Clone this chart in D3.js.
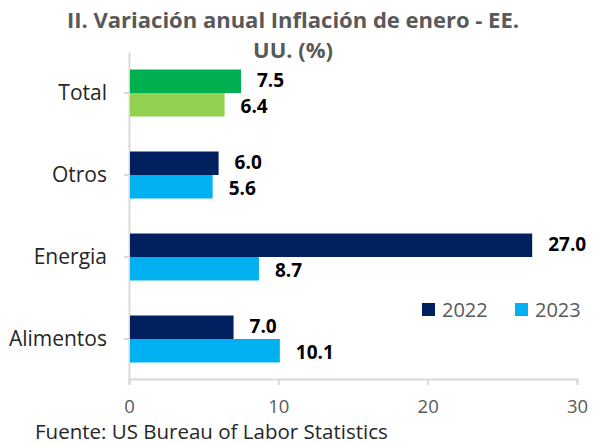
<!DOCTYPE html>
<html>
<head>
<meta charset="utf-8">
<script src="https://cdn.jsdelivr.net/npm/d3@7"></script>
<style>
  html, body { margin: 0; padding: 0; background: #ffffff; }
  svg { display: block; }
</style>
</head>
<body>
<svg id="chart" width="595" height="445"></svg>
<script>
// ---- Data ----
const categories = ["Total", "Otros", "Energia", "Alimentos"];
const series = ["2022", "2023"];
const values2022 = [7.5, 6.0, 27.0, 7.0];
const values2023 = [6.4, 5.6, 8.7, 10.1];
const xTicks = [0, 10, 20, 30];
const titleLines = ["II. Variación  anual Inflación de enero - EE.", "UU. (%)"];
const sourceText = "Fuente: US Bureau of Labor Statistics";

// ---- Styles ----
const colors = { "2022": "#002060", "2023": "#00B0F0" };
const totalColors = { "2022": "#00B050", "2023": "#92D050" };
const font = "'Open Sans', 'Noto Sans', sans-serif";

const svg = d3.select("#chart");

const x = d3.scaleLinear().domain([0, 30]).range([129, 577]);
const y = d3.scaleBand().domain(categories).range([52, 380])
  .paddingInner(0.427).paddingOuter(0.2135);
const ySub = d3.scaleBand().domain(series).range([0, y.bandwidth()]);

// Title
svg.append("g").selectAll("text").data(titleLines).join("text")
  .attr("x", 293).attr("y", (d, i) => 28 + i * 30)
  .attr("text-anchor", "middle")
  .style("font-family", font).style("font-weight", "bold")
  .style("font-size", "22px").style("fill", "#595959")
  .text(d => d);

// Axes
const gx = svg.append("g").attr("transform", "translate(0,379)")
  .call(d3.axisBottom(x).tickValues(xTicks).tickSize(6).tickPadding(15).tickFormat(d3.format("d")));
gx.select(".domain").attr("stroke", "#d9d9d9").attr("stroke-width", 2);
gx.selectAll(".tick line").attr("stroke", "#d9d9d9").attr("stroke-width", 2);
gx.selectAll(".tick text").style("font-family", font).style("font-size", "18.5px").style("fill", "#595959");

const gy = svg.append("g").attr("transform", "translate(129,0)")
  .call(d3.axisLeft(y).tickSize(5).tickPadding(17).tickSizeOuter(0));
gy.select(".domain").attr("stroke", "#d9d9d9").attr("stroke-width", 2);
gy.selectAll(".tick line").attr("stroke", "#d9d9d9").attr("stroke-width", 2);
gy.selectAll(".tick text").style("font-family", font).style("font-size", "21px").style("fill", "#262626");

// Bars
const rows = [];
categories.forEach((c, i) => {
  rows.push({ cat: c, s: "2022", v: values2022[i] });
  rows.push({ cat: c, s: "2023", v: values2023[i] });
});

const bars = svg.append("g");
bars.selectAll("rect").data(rows).join("rect")
  .attr("x", x(0) + 1)
  .attr("y", d => y(d.cat) + ySub(d.s))
  .attr("width", d => x(d.v) - x(0) - 1)
  .attr("height", ySub.bandwidth())
  .attr("fill", d => d.cat === "Total" ? totalColors[d.s] : colors[d.s]);

bars.selectAll("text").data(rows).join("text")
  .attr("x", d => x(d.v) + 16)
  .attr("y", d => y(d.cat) + ySub(d.s) + ySub.bandwidth() / 2 + (d.s === "2022" ? -1 : 1))
  .attr("dy", "0.36em")
  .style("font-family", font).style("font-weight", "bold")
  .style("font-size", "19px").style("fill", "#000000")
  .text(d => d.v.toFixed(1));

// Legend
const legend = svg.append("g");
const legendX = [422, 515];
series.forEach((s, i) => {
  legend.append("rect").attr("x", legendX[i]).attr("y", 303)
    .attr("width", 13).attr("height", 13).attr("fill", colors[s]);
  legend.append("text").attr("x", legendX[i] + 20).attr("y", 310).attr("dy", "0.36em")
    .style("font-family", font).style("font-size", "20px").style("fill", "#595959")
    .text(s);
});

// Source
svg.append("text").attr("x", 35).attr("y", 439)
  .style("font-family", font).style("font-size", "20.5px").style("fill", "#262626")
  .text(sourceText);
</script>
</body>
</html>
